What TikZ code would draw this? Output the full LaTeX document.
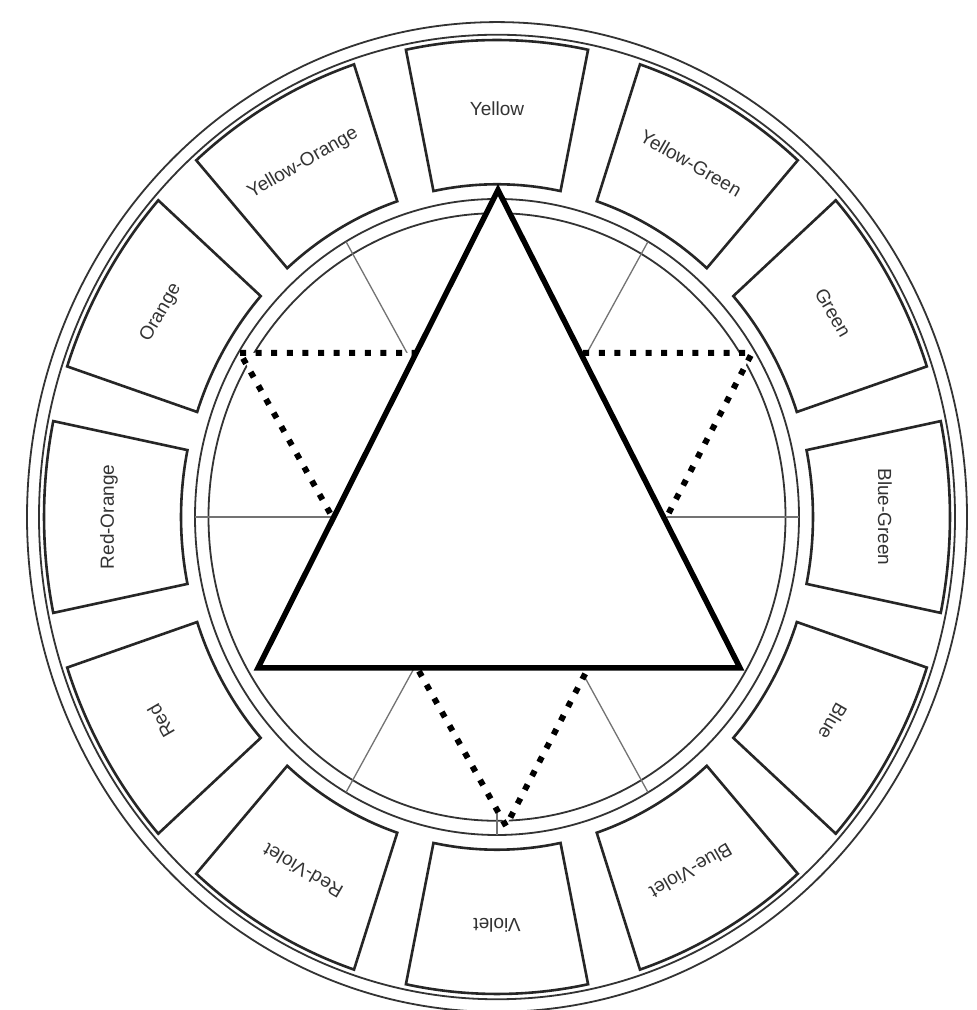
\documentclass[tikz,border=0pt]{standalone}
\usepackage{fontspec}
\setmainfont{Liberation Sans}
\begin{document}
\begin{tikzpicture}[x=1pt,y=1pt,
  ringline/.style={draw=black!80, line width=1.8pt},
  boxline/.style={draw=black!85, line width=2.6pt, fill=white},
  spoke/.style={draw=black!55, line width=1.3pt},
  bigtri/.style={draw=black, line width=5.5pt, line join=miter},
  dotline/.style={draw=black, line width=6pt, dash pattern=on 6pt off 9.6pt},
  lab/.style={font=\fontsize{19}{22}\selectfont, text=black!80, inner sep=0pt}
]
\useasboundingbox (0,0) rectangle (977,1010);
\fill[white] (0,0) rectangle (977,1010);
\begin{scope}[shift={(497,493)}, yscale=1.053]
  \coordinate (O) at (0,0);
  % outer ring
  \draw[ringline] (O) circle (470);
  \draw[ringline] (O) circle (458);
  % inner ring
  \draw[ringline] (O) circle (302);
  \draw[ringline] (O) circle (288.5);
  % spokes
  \foreach \a in {0,60,120,180,240,300,270}
    \draw[spoke] (O) -- (\a:302) coordinate (s\a);
  % boxes and labels
  \foreach \a/\name/\id in {90/Yellow/y, 60/Yellow-Green/yg, 30/Green/g,
      0/Blue-Green/bg, -30/Blue/b, -60/Blue-Violet/bv, -90/Violet/v,
      -120/Red-Violet/rv, -150/Red/r, 180/Red-Orange/ro, 150/Orange/o,
      120/Yellow-Orange/yo}{
    \draw[boxline] ({\a-11.6}:316) -- ({\a-11.6}:453)
      arc[start angle={\a-11.6}, end angle={\a+11.6}, radius=453]
      -- ({\a+11.6}:316)
      arc[start angle={\a+11.6}, end angle={\a-11.6}, radius=316] -- cycle;
    \node[lab, rotate=\a-90] (l\id) at (\a:388) {\name};
  }
\end{scope}
% triangles
\coordinate (A) at (498,820);
\coordinate (B) at (258,342);
\coordinate (C) at (740,342);
\coordinate (P) at (240,657);
\coordinate (Q) at (752,657);
\coordinate (R) at (506,184);
\fill[white] (P) -- (Q) -- (R) -- cycle;
\draw[dotline] (P) -- (Q) -- (R) -- cycle;
\fill[white] (A) -- (B) -- (C) -- cycle;
\draw[bigtri] (A) -- (B) -- (C) -- cycle;
\end{tikzpicture}
\end{document}
